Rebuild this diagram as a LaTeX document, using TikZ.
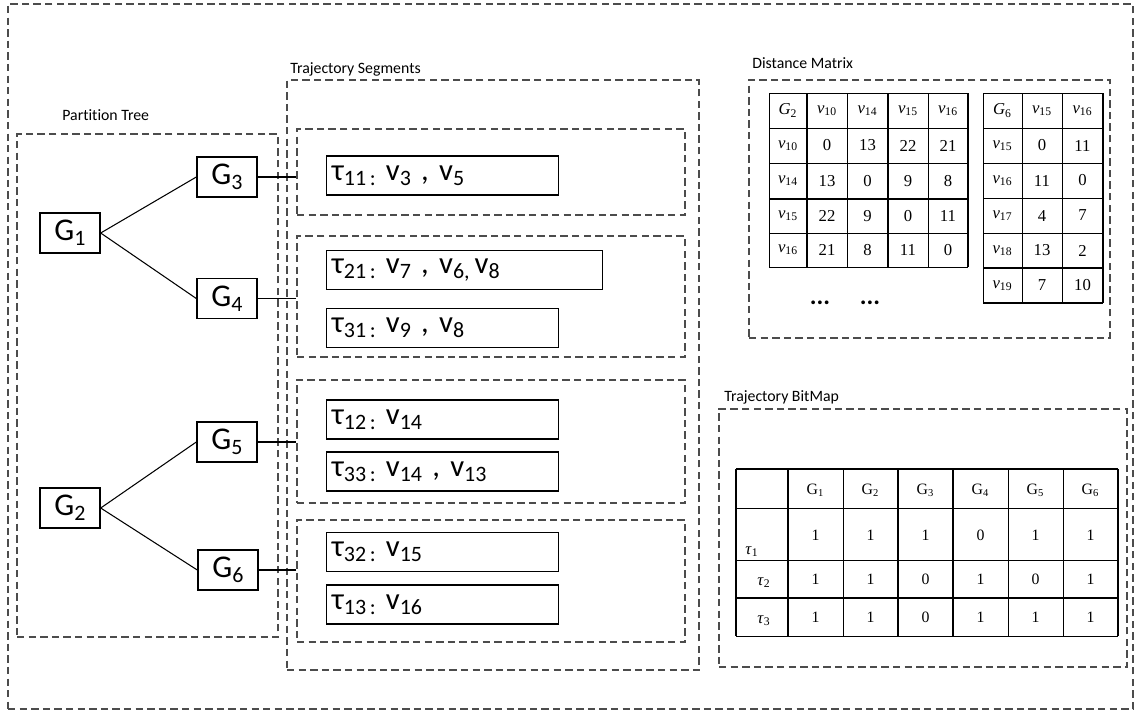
\documentclass[tikz,border=0pt]{standalone}
\usepackage{fontspec}
\setmainfont[Ligatures=NoCommon]{Carlito}
\newfontfamily\tabfont{Liberation Serif}
\usetikzlibrary{fit}
\newcommand\vv[1]{\textit{v}\textsubscript{#1}}
\newcommand\gpart[1]{\textit{G}\textsubscript{#1}}
\newcommand\tsub[1]{\textsubscript{#1}}
\newcommand\bsub[1]{\raisebox{-0.35ex}{\fontsize{12.5}{13}\selectfont #1}}
\tikzset{
  grp/.style={draw=black!70, dash pattern=on 4.2pt off 2.4pt, line width=0.7pt, inner sep=0pt},
  gnode/.style={draw, line width=0.8pt, minimum width=1.2cm, minimum height=0.8cm, inner sep=0pt, font=\fontsize{18}{20}\selectfont},
  segbox/.style={draw, line width=0.8pt, anchor=west, minimum height=0.78cm, text width=#1, inner xsep=3pt, inner ysep=0pt, font=\fontsize{17.5}{19}\selectfont},
  lbl/.style={anchor=west, inner sep=0pt, font=\fontsize{9}{11}\selectfont},
  cell/.style={inner sep=0pt, font=\tabfont\fontsize{9.5}{11}\selectfont},
  tline/.style={line width=0.5pt},
  bline/.style={line width=1.2pt}
}
\begin{document}
\begin{tikzpicture}[x=0.02cm,y=-0.02cm]
  \useasboundingbox (0,0) rectangle (1138,711);
  % outer frame
  \node[grp, fit={(8,4) (1133,709)}] (frame) {};

  % partition tree
  \node[grp, fit={(17,134) (278,637)}] (ptree) {};
  \node[lbl] (ptreelbl) at (62,115) {Partition Tree};
  \node[gnode] (g1) at (70,233) {G\bsub{1}};
  \node[gnode] (g2) at (70,508) {G\bsub{2}};
  \node[gnode] (g3) at (227,177) {G\bsub{3}};
  \node[gnode] (g4) at (227,298.5) {G\bsub{4}};
  \node[gnode] (g5) at (227,442) {G\bsub{5}};
  \node[gnode] (g6) at (228,570) {G\bsub{6}};
  \draw[line width=0.6pt] (g1.east) -- (g3.west);
  \draw[line width=0.6pt] (g1.east) -- (g4.west);
  \draw[line width=0.6pt] (g2.east) -- (g5.west);
  \draw[line width=0.6pt] (g2.east) -- (g6.west);

  % trajectory segments
  \node[grp, fit={(287,80) (699,670)}] (segs) {};
  \node[lbl] (segslbl) at (290,69) {Trajectory Segments};
  \node[grp, fit={(297,129) (685,215)}] (sb1) {};
  \node[grp, fit={(297,236) (685,357)}] (sb2) {};
  \node[grp, fit={(297,380) (685,503)}] (sb3) {};
  \node[grp, fit={(297,520) (685,642)}] (sb4) {};
  \node[segbox=4.43cm] (t11) at (326,175.5) {τ\bsub{11\,:} v\bsub{3} , v\bsub{5}};
  \node[segbox=5.31cm] (t21) at (326,270) {τ\bsub{21\,:} v\bsub{7} , v\bsub{6,}\,v\bsub{8}};
  \node[segbox=4.43cm] (t31) at (326,328) {τ\bsub{31\,:} v\bsub{9} , v\bsub{8}};
  \node[segbox=4.43cm] (t12) at (326,419.5) {τ\bsub{12\,:} v\bsub{14}};
  \node[segbox=4.43cm] (t33) at (326,471.5) {τ\bsub{33\,:} v\bsub{14} , v\bsub{13}};
  \node[segbox=4.43cm] (t32) at (326,552) {τ\bsub{32\,:} v\bsub{15}};
  \node[segbox=4.43cm] (t13) at (326,604.5) {τ\bsub{13\,:} v\bsub{16}};
  \draw[line width=0.6pt] (g3.east) -- (g3.east -| sb1.west);
  \draw[line width=0.6pt] (g4.east) -- (g4.east -| sb2.west);
  \draw[line width=0.6pt] (g5.east) -- (g5.east -| sb3.west);
  \draw[line width=0.6pt] (g6.east) -- (g6.east -| sb4.west);

  % distance matrix
  \node[grp, fit={(749,80) (1110,338)}] (dist) {};
  \node[lbl] (distlbl) at (752,63) {Distance Matrix};
  \foreach \x in {769,807,847,888,928,968} \draw[tline] (\x,93) -- (\x,267);
  \foreach \y in {93,128,163,199,233,267} \draw[tline] (769,\y) -- (968,\y);
  \foreach \x in {807,888,968} \draw[bline] (\x,93) -- (\x,267);
  \draw[bline] (769,199) -- (968,199);
  \foreach \xc/\txt in {788/{\gpart{2}},827/{\vv{10}},867.5/{\vv{14}},908/{\vv{15}},948/{\vv{16}}}
    \node[cell] (dah-\xc) at (\xc,110.5) {\txt};
  \foreach \yc/\lab/\a/\b/\c/\d [count=\r] in {145.5/{\vv{10}}/0/13/22/21,181/{\vv{14}}/13/0/9/8,216/{\vv{15}}/22/9/0/11,250/{\vv{16}}/21/8/11/0}{
    \node[cell] (da-\r-0) at (788,\yc) {\lab};
    \node[cell] (da-\r-1) at (827,\yc) {\a};
    \node[cell] (da-\r-2) at (867.5,\yc) {\b};
    \node[cell] (da-\r-3) at (908,\yc) {\c};
    \node[cell] (da-\r-4) at (948,\yc) {\d};
  }
  \foreach \x in {983,1022,1062,1103} \draw[tline] (\x,93) -- (\x,303);
  \foreach \y in {93,128,163,198,233,268,303} \draw[tline] (983,\y) -- (1103,\y);
  \draw[bline] (1103,93) -- (1103,303);
  \draw[bline] (983,268) -- (1103,268);
  \draw[bline] (983,303) -- (1103,303);
  \foreach \xc/\txt in {1002.5/{\gpart{6}},1042/{\vv{15}},1082.5/{\vv{16}}}
    \node[cell] (dbh-\xc) at (\xc,110.5) {\txt};
  \foreach \yc/\lab/\a/\b [count=\r] in {145.5/{\vv{15}}/0/11,180.5/{\vv{16}}/11/0,215.5/{\vv{17}}/4/7,250.5/{\vv{18}}/13/2,285.5/{\vv{19}}/7/10}{
    \node[cell] (db-\r-0) at (1002.5,\yc) {\lab};
    \node[cell] (db-\r-1) at (1042,\yc) {\a};
    \node[cell] (db-\r-2) at (1082.5,\yc) {\b};
  }
  \node[font=\bfseries\Large] (dots1) at (820,303) {...};
  \node[font=\bfseries\Large] (dots2) at (870,303) {...};

  % trajectory bitmap
  \node[grp, fit={(719,409) (1127,667)}] (bmap) {};
  \node[lbl] (bmaplbl) at (724,397) {Trajectory BitMap};
  \foreach \x in {736,788,843,898,953,1008,1063,1118} \draw[tline] (\x,469) -- (\x,636);
  \foreach \y in {469,508,560,598,636} \draw[tline] (736,\y) -- (1118,\y);
  \foreach \x in {736,788,898,953,1118} \draw[bline] (\x,469) -- (\x,636);
  \foreach \y in {469,598} \draw[bline] (736,\y) -- (1118,\y);
  \foreach \xc [count=\i] in {815.5,870.5,925.5,980.5,1035.5,1090.5}
    \node[cell, font=\tabfont\fontsize{9}{11}\selectfont] (bh-\i) at (\xc,490) {G\tsub{\i}};
  \node[cell] (bt-1) at (752,552) {\textit{τ}\tsub{1}};
  \node[cell] (bt-2) at (764,583) {\textit{τ}\tsub{2}};
  \node[cell] (bt-3) at (764,621) {\textit{τ}\tsub{3}};
  \foreach \yc/\vals [count=\r] in {535/{1,1,1,0,1,1},579/{1,1,0,1,0,1},617/{1,1,0,1,1,1}}
    \foreach \v [count=\i] in \vals {
      \pgfmathsetmacro\xc{760.5+55*\i}
      \node[cell, font=\tabfont\fontsize{9}{11}\selectfont] (b-\r-\i) at (\xc,\yc) {\v};
    }
\end{tikzpicture}
\end{document}
